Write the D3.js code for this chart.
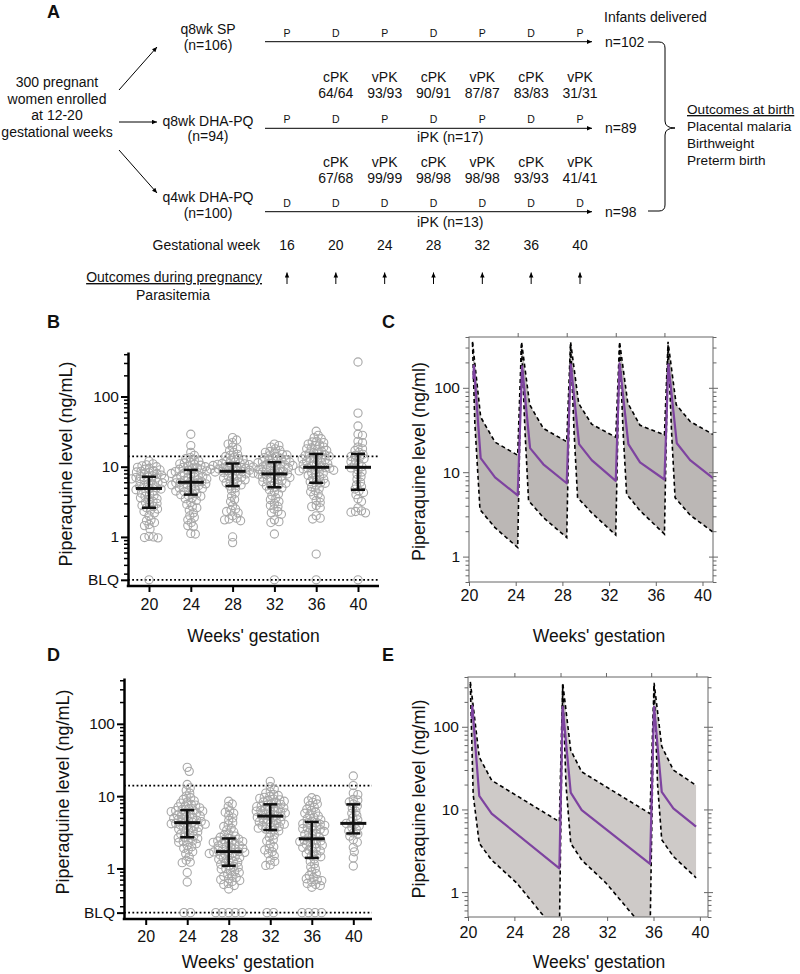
<!DOCTYPE html>
<html><head><meta charset="utf-8">
<script src="https://cdn.jsdelivr.net/npm/d3@7"></script>
<style>body{margin:0;background:#fff} svg{font-family:"Liberation Sans",Arial,Helvetica,sans-serif}</style>
</head><body><svg id="fig" width="800" height="974"></svg>
<script>
// ---------------- Panel A data ----------------
const weeksA = [16, 20, 24, 28, 32, 36, 40];
const armLabels = ["q8wk SP", "q8wk DHA-PQ", "q4wk DHA-PQ"];
const armSizes = ["(n=106)", "(n=94)", "(n=100)"];
const dosesSP = ["P","D","P","D","P","D","P"];
const dosesQ8 = ["P","D","P","D","P","D","P"];
const dosesQ4 = ["D","D","D","D","D","D","D"];
const pkWeeks = [20, 24, 28, 32, 36, 40];
const pkTypes = ["cPK","vPK","cPK","vPK","cPK","vPK"];
const pkQ8 = ["64/64","93/93","90/91","87/87","83/83","31/31"];
const pkQ4 = ["67/68","99/99","98/98","98/98","93/93","41/41"];
const deliveredLabels = ["n=102","n=89","n=98"];
const iPKLabels = ["iPK (n=17)","iPK (n=13)"];
const enrolLines = ["300 pregnant","women enrolled","at 12-20","gestational weeks"];
const birthOutcomes = ["Placental malaria","Birthweight","Preterm birth"];

// ---------------- Panels B / D data ----------------
const weeksBD = [20, 24, 28, 32, 36, 40];
const BLQ = 0.245;
const MEC = 14;
const b20 = [0.97,0.98,1.0,1.02,1.3,1.45,1.5,1.6,1.7,1.75,2.0,2.2,2.3,2.4,2.5,2.6,2.7,2.8,2.9,3.0,3.1,3.2,3.4,3.5,3.6,3.8,3.9,4.0,4.2,4.4,4.5,4.7,4.8,4.9,5.0,5.2,5.4,5.5,5.7,5.9,6.0,6.2,6.4,6.5,6.7,6.8,6.9,7.0,7.1,7.2,7.4,7.6,7.8,8.0,8.2,8.4,8.6,8.8,9.0,9.2,9.5,9.8,10,10.3,10.6,11,12];
const b24 = [1.1,1.12,1.4,1.45,1.6,1.75,1.9,2.0,2.2,2.4,2.6,2.7,2.9,3.1,3.3,3.5,3.6,3.8,3.9,4.0,4.1,4.2,4.4,4.5,4.6,4.8,4.9,5.0,5.1,5.2,5.4,5.5,5.6,5.7,5.8,5.9,6.0,6.1,6.2,6.4,6.5,6.7,6.8,7.0,7.1,7.3,7.4,7.6,7.8,8.0,8.1,8.3,8.5,8.7,8.8,9.0,9.2,9.4,9.6,9.8,10,10.2,10.5,10.8,11,11.3,11.6,12,12.5,13,13.5,14.5,16,20,29];
const b28 = [0.83,1.0,1.7,1.75,1.8,1.85,2.0,2.2,2.3,2.4,2.5,2.8,3.2,3.4,3.8,4.2,4.6,5.0,5.3,5.5,5.7,5.9,6.1,6.3,6.5,6.7,6.9,7.1,7.3,7.5,7.7,7.9,8.1,8.3,8.4,8.5,8.7,8.8,8.9,9.0,9.2,9.3,9.5,9.6,9.8,9.9,10.1,10.2,10.4,10.5,10.7,10.8,11.0,11.1,11.3,11.6,11.9,12.2,12.6,13,13.5,14,14.5,15,16,17,18,19,21,22,24,26];
const b32 = [1.1,1.6,1.65,1.75,2.1,2.2,2.3,2.5,2.7,2.8,3.0,3.2,3.4,3.6,3.9,4.1,4.4,4.7,5.0,5.1,5.3,5.4,5.6,5.8,5.9,6.1,6.3,6.4,6.6,6.8,7.0,7.1,7.3,7.5,7.6,7.8,7.9,8.0,8.2,8.4,8.6,8.8,9.0,9.2,9.4,9.6,9.8,10,10.2,10.4,10.6,10.8,11,11.2,11.4,11.6,11.8,12,12.3,12.6,12.9,13.2,13.5,13.9,14.3,14.7,15,15.5,16,16.5,17,18,19,20,21];
const b36 = [0.57,1.8,1.85,2.0,2.6,2.7,2.8,3.1,3.3,3.6,3.9,4.1,4.4,4.6,4.9,5.2,5.5,5.8,5.9,6.1,6.4,6.7,6.9,7.2,7.5,7.7,8.0,8.2,8.5,8.7,8.9,9.1,9.3,9.5,9.6,9.7,9.9,10.2,10.5,10.8,11.1,11.4,11.7,12,12.3,12.6,12.9,13.2,13.5,13.8,14.1,14.5,14.8,15.1,15.5,16,16.5,17,17.5,18,18.5,19,20,20.5,21,22,22.5,23,25,26,28,32];
const b40 = [2.2,2.25,2.3,2.35,2.6,3.2,3.5,4.0,4.3,4.5,4.8,5.2,5.5,6.0,6.6,7.2,7.8,8.4,9.0,9.6,10,10.6,11.2,11.8,12.4,13,13.5,14,14.5,15,16,17,18,19,22,23,28,29,38,58,310];
const blqB = [1, 0, 0, 1, 1, 1];
const medB = [4.9, 6.0, 8.6, 7.9, 9.8, 9.8];
const q1B = [2.6, 4.0, 5.3, 5.1, 5.9, 4.7];
const q3B = [7.2, 9.0, 11.1, 11.6, 15.2, 15.2];

const d24 = [0.65,0.88,1.2,1.22,1.3,1.45,1.6,1.7,1.8,1.9,2.0,2.1,2.2,2.3,2.35,2.4,2.5,2.6,2.65,2.7,2.8,2.9,3.0,3.1,3.2,3.3,3.4,3.5,3.6,3.7,3.8,3.9,4.0,4.1,4.15,4.2,4.25,4.35,4.45,4.55,4.65,4.75,4.85,4.95,5.05,5.2,5.3,5.45,5.6,5.7,5.85,6.0,6.1,6.2,6.3,6.4,6.55,6.7,6.9,7.1,7.3,7.5,7.7,8.0,8.3,8.6,9.0,9.5,10,11,12,13,14.5,22,25];
const d28 = [0.52,0.58,0.6,0.62,0.66,0.68,0.7,0.72,0.75,0.78,0.8,0.84,0.88,0.9,0.95,0.98,1.0,1.04,1.07,1.1,1.14,1.18,1.22,1.25,1.3,1.34,1.38,1.42,1.46,1.5,1.54,1.58,1.61,1.64,1.67,1.69,1.7,1.73,1.78,1.82,1.86,1.9,1.95,2.0,2.05,2.1,2.15,2.2,2.25,2.3,2.35,2.4,2.45,2.5,2.55,2.6,2.7,2.8,2.9,3.0,3.2,3.4,3.6,3.8,4.0,4.3,4.6,5.0,5.4,5.8,6.0,6.3,7.2,7.8,8.5];
const d32 = [1.1,1.12,1.25,1.3,1.5,1.6,1.7,1.8,1.9,2.0,2.2,2.4,2.5,2.7,2.9,3.1,3.3,3.4,3.5,3.6,3.7,3.8,3.9,4.0,4.1,4.2,4.3,4.4,4.5,4.6,4.7,4.8,5.0,5.1,5.2,5.35,5.5,5.6,5.7,5.85,6.0,6.1,6.2,6.35,6.5,6.6,6.75,6.9,7.0,7.15,7.3,7.5,7.7,7.9,8.1,8.3,8.5,8.7,8.9,9.1,9.3,9.6,9.9,10.2,10.5,11,11.5,12.5,13.5,16];
const d36 = [0.55,0.58,0.6,0.62,0.65,0.68,0.7,0.72,0.75,0.8,0.85,0.9,1.0,1.05,1.15,1.25,1.35,1.45,1.5,1.55,1.6,1.7,1.75,1.8,1.9,1.95,2.0,2.1,2.15,2.2,2.3,2.35,2.4,2.45,2.5,2.65,2.75,2.85,2.95,3.05,3.15,3.25,3.35,3.45,3.55,3.65,3.75,3.85,3.95,4.05,4.15,4.25,4.35,4.5,4.7,4.9,5.1,5.3,5.5,5.8,6.0,6.3,6.6,7.0,7.4,7.8,8.2,8.6,9.0,9.5];
const d40 = [1.08,1.4,1.7,1.95,2.3,2.5,2.8,3.0,3.1,3.3,3.5,3.7,3.9,4.1,4.2,4.4,4.7,5.0,5.4,5.8,6.2,6.8,7.3,7.8,8.3,8.8,9.0,10.5,11,14,19];
const blqD = [0, 2, 5, 2, 4, 0];
const medD = [null, 4.3, 1.71, 5.3, 2.57, 4.2];
const q1D = [null, 2.7, 1.09, 3.4, 1.4, 3.05];
const q3D = [null, 6.4, 2.6, 7.7, 4.4, 7.7];

// ---------------- Panel C data (q4wk simulation) ----------------
const tMedC = [20.37,20.42,21.0,22.23,24.17,24.55,25.23,26.37,28.37,28.72,29.43,30.51,32.57,32.9,33.65,34.65,36.74,37.08,37.8,38.94,40.9];
const medC  = [128,183,14.7,8.7,5.3,180,19.3,12.4,7.4,190,21.5,13.9,7.9,195,21.5,13.1,8.2,190,22,13.9,8.5];
const tHiC = [20.3,21.0,22.23,24.17,24.5,25.2,26.37,28.37,28.7,29.4,30.51,32.57,32.9,33.6,34.65,36.74,37.05,37.75,38.94,40.9];
const hiC  = [350,45,22.7,15.9,350,63,33,23,350,65,37,26,350,66,36,27.6,350,63,40,28];
const tLoC = [20.3,20.5,20.94,22.23,24.17,24.5,24.8,25.1,26.37,28.37,28.7,29.0,29.3,30.51,32.57,32.9,33.2,33.5,34.65,36.74,37.05,37.35,37.65,38.94,40.9];
const loC  = [340,38,3.6,2.2,1.28,320,30,4.6,2.9,1.68,320,30,5,3.3,1.8,320,30,5.5,3.5,1.85,320,30,5,3.1,1.95];
const topTicksC = [24.17,28.37,32.57,36.74];

// ---------------- Panel E data (q8wk simulation) ----------------
const tMedE = [20.32,20.37,20.97,22.04,27.88,28.17,28.86,29.81,35.7,36.05,36.71,37.71,39.67];
const medE  = [126,178,14.6,8.9,1.94,174,16,9.8,2.2,174,16.3,10.3,6.2];
const tHiE = [20.2,20.97,22.04,27.88,28.17,28.86,29.81,35.7,36.05,36.71,37.71,39.67];
const hiE  = [350,43,22.5,7.1,340,52,28.5,8.9,340,58,30,19.6];
const tLoE = [20.2,20.45,20.97,22.04,24.2,27.88,28.17,28.45,28.86,29.81,31.9,35.7,36.05,36.35,36.71,37.71,39.67];
const loE  = [330,15,3.9,2.44,1.29,0.3,320,20,3.9,2.44,1.29,0.3,320,20,4.3,2.7,1.49];
const topTicksE = [24,27.98,31.9,35.8,39.7];

const pkXTicks = [20,24,28,32,36,40];
const pkYMajor = [1,10,100];
const pkYMinor = [0.5,0.6,0.7,0.8,0.9,2,3,4,5,6,7,8,9,20,30,40,50,60,70,80,90,200,300,400];
const bdYMinor = [0.3,0.4,0.5,0.6,0.7,0.8,0.9,2,3,4,5,6,7,8,9,20,30,40,50,60,70,80,90,200,300,400];

// =====================================================
const svg = d3.select("#fig");
const FONT = '"Liberation Sans",Arial,Helvetica,sans-serif';
const defs = svg.append("defs");
defs.append("marker").attr("id","ahs").attr("viewBox","0 0 10 10").attr("refX",10).attr("refY",5)
  .attr("markerWidth",6).attr("markerHeight",5).attr("markerUnits","userSpaceOnUse").attr("orient","auto")
  .append("path").attr("d","M0,0.5 L10,5 L0,9.5 Z").attr("fill","#000");

function txt(g, x, y, s, opt = {}) {
  return g.append("text").attr("x", x).attr("y", y).text(s)
    .attr("font-size", opt.size || 14)
    .attr("text-anchor", opt.anchor || "start")
    .attr("font-weight", opt.bold ? "bold" : null)
    .attr("text-decoration", opt.underline ? "underline" : null)
    .attr("fill", "#111");
}

// ---------------- Panel A ----------------
(function panelA() {
  const g = svg.append("g");
  const xA = d3.scaleLinear().domain([16, 40]).range([287, 580]);
  txt(g, 47, 18, "A", {size: 18, bold: true});
  enrolLines.forEach((s, i) => txt(g, 57, 87 + i * 16.7, s, {anchor: "middle"}));
  const armArrows = [[119, 90, 157, 47], [119, 122, 157, 122], [119, 150, 157, 193]];
  armArrows.forEach(a => g.append("line").attr("x1", a[0]).attr("y1", a[1]).attr("x2", a[2]).attr("y2", a[3])
    .attr("stroke", "#000").attr("stroke-width", 1).attr("marker-end", "url(#ahs)"));
  const armY = [41.7, 128.3, 211.7];
  const nameY = [34, 125.5, 202], sizeY = [50, 140.5, 217.5];
  armLabels.forEach((s, i) => {
    txt(g, 208, nameY[i], s, {anchor: "middle"});
    txt(g, 208, sizeY[i], armSizes[i], {anchor: "middle"});
  });
  const doses = [dosesSP, dosesQ8, dosesQ4];
  armY.forEach((yy, i) => {
    g.append("line").attr("x1", 265).attr("x2", 592).attr("y1", yy).attr("y2", yy)
      .attr("stroke", "#000").attr("stroke-width", 1).attr("marker-end", "url(#ahs)");
    doses[i].forEach((d, j) => txt(g, xA(weeksA[j]), yy - 5, d, {size: 10.5, anchor: "middle"}));
  });
  pkWeeks.forEach((w, j) => {
    txt(g, xA(w), 82, pkTypes[j], {anchor: "middle"});
    txt(g, xA(w), 98, pkQ8[j], {anchor: "middle"});
    txt(g, xA(w), 167, pkTypes[j], {anchor: "middle"});
    txt(g, xA(w), 183, pkQ4[j], {anchor: "middle"});
  });
  txt(g, 417, 142, iPKLabels[0]);
  txt(g, 417, 227, iPKLabels[1]);
  txt(g, 260, 250, "Gestational week", {anchor: "end"});
  weeksA.forEach(w => txt(g, xA(w), 250, String(w), {anchor: "middle"}));
  txt(g, 262, 282, "Outcomes during pregnancy", {anchor: "end", underline: true});
  weeksA.forEach(w => g.append("line").attr("x1", xA(w)).attr("x2", xA(w)).attr("y1", 284).attr("y2", 272.5)
    .attr("stroke", "#000").attr("stroke-width", 1).attr("marker-end", "url(#ahs)"));
  txt(g, 173, 300, "Parasitemia", {anchor: "middle"});
  txt(g, 604, 22, "Infants delivered");
  const nY = [47, 133, 217];
  deliveredLabels.forEach((s, i) => txt(g, 605, nY[i], s));
  g.append("path").attr("d", "M648,42 L659,42 Q665,42 665,48 L665,121 Q665,128 675,128 Q665,128 665,135 L665,205 Q665,211 659,211 L648,211")
    .attr("fill", "none").attr("stroke", "#000").attr("stroke-width", 1);
  txt(g, 687, 114, "Outcomes at birth", {underline: true, size: 13.6});
  birthOutcomes.forEach((s, i) => txt(g, 687, 131 + i * 17, s, {size: 13.6}));
})();

// ---------------- Beeswarm helper ----------------
function swarm(ys, minD, step) {
  const order = ys.map((y, i) => i).sort((a, b) => ys[a] - ys[b]);
  const placed = [], xs = new Array(ys.length);
  for (const i of order) {
    const yi = ys[i];
    let best = 0;
    for (let k = 0; k < 600; k++) {
      const off = k === 0 ? 0 : (k % 2 === 1 ? 1 : -1) * Math.ceil(k / 2) * step;
      let ok = true;
      for (const p of placed) {
        const dy = p.y - yi;
        if (Math.abs(dy) >= minD) continue;
        const dx = p.x - off;
        if (dx * dx + dy * dy < minD * minD) { ok = false; break; }
      }
      if (ok) { best = off; break; }
    }
    xs[i] = best; placed.push({x: best, y: yi});
  }
  return xs;
}

// ---------------- Panels B / D ----------------
function scatterPanel(o) {
  const g = svg.append("g");
  const x = d3.scaleLinear().domain([20, 40]).range([o.x20, o.x40]);
  const y = d3.scaleLog().domain([0.2, 430]).range([o.yBot, o.yTop]);
  txt(g, o.labX, o.labY, o.label, {size: 18, bold: true});
  [MEC, BLQ].forEach(v => g.append("line").attr("x1", o.xAxis).attr("x2", o.xEnd)
    .attr("y1", y(v)).attr("y2", y(v)).attr("stroke", "#000").attr("stroke-width", 1.8)
    .attr("stroke-dasharray", "1.8,2.4"));
  const ptStyle = s => s.attr("r", 4.1).attr("fill", "none").attr("stroke", "#a8a8a8").attr("stroke-width", 1.1);
  o.groups.forEach((vals, i) => {
    const cx = x(weeksBD[i]);
    if (vals) {
      const ys = vals.map(v => y(v));
      const xs = swarm(ys, 4.4, 0.5);
      g.selectAll(null).data(vals).enter().append("circle")
        .attr("cx", (d, j) => cx + xs[j]).attr("cy", (d, j) => ys[j]).call(ptStyle);
    }
    const nb = o.blq[i];
    for (let k = 0; k < nb; k++) {
      g.append("circle").attr("cx", cx + (k - (nb - 1) / 2) * o.blqGap).attr("cy", y(BLQ)).call(ptStyle);
    }
    if (o.med[i] != null) {
      const line = (x1, x2, y1, y2, w) => g.append("line").attr("x1", x1).attr("x2", x2).attr("y1", y1).attr("y2", y2)
        .attr("stroke", "#111").attr("stroke-width", w);
      line(cx, cx, y(o.q1[i]), y(o.q3[i]), 2.5);
      line(cx - 7, cx + 7, y(o.q1[i]), y(o.q1[i]), 2.5);
      line(cx - 7, cx + 7, y(o.q3[i]), y(o.q3[i]), 2.5);
      line(cx - 13, cx + 13, y(o.med[i]), y(o.med[i]), 3);
    }
  });
  const ax = g.append("g").attr("transform", `translate(${o.xAxis},0)`);
  ax.call(d3.axisLeft(y).tickValues(bdYMinor).tickSize(4).tickSizeOuter(0).tickFormat(""));
  ax.selectAll(".tick line").attr("stroke-width", 1.5);
  ax.select(".domain").attr("stroke-width", 2.5);
  const axM = g.append("g").attr("transform", `translate(${o.xAxis},0)`);
  axM.call(d3.axisLeft(y).tickValues([BLQ, 1, 10, 100]).tickSize(7).tickSizeOuter(0).tickPadding(2)
    .tickFormat(d => d === BLQ ? "BLQ" : d3.format("d")(d)));
  axM.select(".domain").remove();
  axM.selectAll(".tick line").attr("stroke-width", 2);
  axM.selectAll("text").attr("font-size", 15.5).attr("font-family", FONT).attr("fill", "#111");
  g.append("line").attr("x1", o.xAxis - 1.25).attr("x2", o.xEnd).attr("y1", o.yBot).attr("y2", o.yBot)
    .attr("stroke", "#000").attr("stroke-width", 2.5);
  const bx = g.append("g").attr("transform", `translate(0,${o.yBot})`);
  bx.call(d3.axisBottom(x).tickValues(weeksBD).tickSize(6).tickSizeOuter(0).tickPadding(o.xPad).tickFormat(d3.format("d")));
  bx.select(".domain").remove();
  bx.selectAll(".tick line").attr("stroke-width", 2);
  bx.selectAll("text").attr("font-size", 16).attr("font-family", FONT).attr("fill", "#111");
  txt(g, (o.xAxis + o.xEnd) / 2, o.titleY, "Weeks' gestation", {size: 17.5, anchor: "middle"});
  g.append("text").attr("transform", `translate(${o.ylabX},${o.ylabY}) rotate(-90)`)
    .attr("text-anchor", "middle").attr("font-size", 18).attr("fill", "#111").text("Piperaquine level (ng/mL)");
}

scatterPanel({label: "B", labX: 47, labY: 328, x20: 149, x40: 358, xAxis: 128, xEnd: 379,
  yTop: 352, yBot: 586, groups: [b20, b24, b28, b32, b36, b40], blq: blqB, blqGap: 8,
  med: medB, q1: q1B, q3: q3B, xPad: 6.5, titleY: 642, ylabX: 72, ylabY: 464});
scatterPanel({label: "D", labX: 47, labY: 661, x20: 145.7, x40: 353.3, xAxis: 124, xEnd: 372,
  yTop: 678, yBot: 919, groups: [null, d24, d28, d32, d36, d40], blq: blqD, blqGap: 6.5,
  med: medD, q1: q1D, q3: q3D, xPad: 5.5, titleY: 968, ylabX: 69, ylabY: 792});

// ---------------- Panels C / E ----------------
function pkPanel(o) {
  const g = svg.append("g");
  const x = d3.scaleLinear().domain(o.xDom).range([o.x0, o.x1]);
  const y = d3.scaleLog().domain([0.5, 400]).range([o.y1, o.y0]);
  txt(g, o.labX, o.labY, o.label, {size: 18, bold: true});
  const cid = "clip" + o.label;
  defs.append("clipPath").attr("id", cid).append("rect")
    .attr("x", o.x0).attr("y", o.y0).attr("width", o.x1 - o.x0).attr("height", o.y1 - o.y0);
  const pg = g.append("g").attr("clip-path", `url(#${cid})`);
  const hiPts = o.tHi.map((t, i) => [x(t), y(o.hi[i])]);
  const loPts = o.tLo.map((t, i) => [x(t), y(o.lo[i])]);
  const line = d3.line();
  pg.append("path").attr("d", line(hiPts.concat(loPts.slice().reverse())) + "Z").attr("fill", o.band).attr("stroke", "none");
  [hiPts, loPts].forEach(p => pg.append("path").attr("d", line(p)).attr("fill", "none")
    .attr("stroke", "#000").attr("stroke-width", 1.6).attr("stroke-dasharray", "4,3"));
  pg.append("path").attr("d", line(o.tMed.map((t, i) => [x(t), y(o.med[i])])))
    .attr("fill", "none").attr("stroke", "#7e43a0").attr("stroke-width", 2.2).attr("stroke-linejoin", "round");
  g.append("rect").attr("x", o.x0).attr("y", o.y0).attr("width", o.x1 - o.x0).attr("height", o.y1 - o.y0)
    .attr("fill", "none").attr("stroke", "#666").attr("stroke-width", 1);
  const styleAx = (a) => { a.select(".domain").remove(); a.selectAll(".tick line").attr("stroke", "#666"); };
  const l1 = g.append("g").attr("transform", `translate(${o.x0},0)`);
  l1.call(d3.axisLeft(y).tickValues(pkYMinor).tickSize(3.5).tickFormat("")); styleAx(l1);
  const l2 = g.append("g").attr("transform", `translate(${o.x0},0)`);
  l2.call(d3.axisLeft(y).tickValues(pkYMajor).tickSize(6).tickPadding(3).tickFormat(d3.format("d"))); styleAx(l2);
  l2.selectAll("text").attr("font-size", 15.5).attr("font-family", FONT).attr("fill", "#111");
  const r1 = g.append("g").attr("transform", `translate(${o.x1},0)`);
  r1.call(d3.axisRight(y).tickValues(pkYMinor).tickSize(3.5).tickFormat("")); styleAx(r1);
  const r2 = g.append("g").attr("transform", `translate(${o.x1},0)`);
  r2.call(d3.axisRight(y).tickValues(pkYMajor).tickSize(5).tickFormat("")); styleAx(r2);
  const r3 = g.append("g").attr("transform", `translate(${o.x1},0)`);
  r3.call(d3.axisLeft(y).tickValues(pkYMajor).tickSize(4).tickFormat("")); styleAx(r3);
  const t1 = g.append("g").attr("transform", `translate(0,${o.y0})`);
  t1.call(d3.axisTop(x).tickValues(o.topTicks).tickSize(4).tickFormat("")); styleAx(t1);
  const b1 = g.append("g").attr("transform", `translate(0,${o.y1})`);
  b1.call(d3.axisBottom(x).tickValues(pkXTicks).tickSize(4).tickPadding(o.xPad).tickFormat(d3.format("d"))); styleAx(b1);
  b1.selectAll("text").attr("font-size", 16).attr("font-family", FONT).attr("fill", "#111");
  txt(g, 599, o.titleY, "Weeks' gestation", {size: 17.5, anchor: "middle"});
  g.append("text").attr("transform", `translate(${o.ylabX},${(o.y0 + o.y1) / 2 + 2}) rotate(-90)`)
    .attr("text-anchor", "middle").attr("font-size", 18).attr("fill", "#111").text("Piperaquine level (ng/ml)");
}

pkPanel({label: "C", labX: 382, labY: 328, xDom: [20, 40.9], x0: 469, x1: 713, y0: 337, y1: 582,
  tHi: tHiC, hi: hiC, tLo: tLoC, lo: loC, tMed: tMedC, med: medC, topTicks: topTicksC,
  band: "#bbb7b5", xPad: 4, titleY: 642, ylabX: 425});
pkPanel({label: "E", labX: 382, labY: 661, xDom: [20, 40.7], x0: 468, x1: 708, y0: 677, y1: 917,
  tHi: tHiE, hi: hiE, tLo: tLoE, lo: loE, tMed: tMedE, med: medE, topTicks: topTicksE,
  band: "#cecac8", xPad: 6, titleY: 968, ylabX: 425});
</script></body></html>
